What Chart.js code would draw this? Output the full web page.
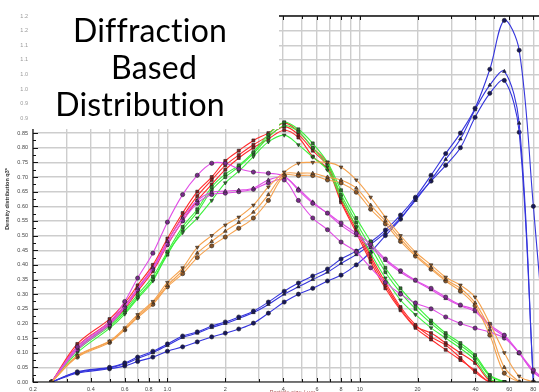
<!DOCTYPE html>
<html><head><meta charset="utf-8">
<script src="https://cdn.jsdelivr.net/npm/chart.js@4/dist/chart.umd.min.js"></script>
<style>
html,body{margin:0;padding:0;background:#fff;overflow:hidden;width:539px;height:392px}
#wrap{position:absolute;left:0;top:0;width:560px;height:400px}
</style></head><body>
<div id="wrap"><canvas id="c" width="560" height="400"></canvas></div>
<script>
// Particle size classes (µm)
const sizes = [0.25, 0.34, 0.5, 0.6, 0.7, 0.84, 1.0, 1.2, 1.43, 1.7, 2.0, 2.35, 2.8, 3.35, 4.05, 4.8, 5.7, 6.8, 8.0, 9.6, 11.4, 13.6, 16.3, 19.5, 23.5, 28, 33.4, 39.8, 47.5, 56.5, 67.5, 80, 95.5];

// Density distribution q3* per sample
const red1 = [0, 0.13, 0.215, 0.27, 0.33, 0.40, 0.49, 0.577, 0.65, 0.70, 0.755, 0.79, 0.825, 0.85, 0.885, 0.855, 0.80, 0.747, 0.63, 0.53, 0.43, 0.34, 0.256, 0.195, 0.154, 0.126, 0.082, 0.034, 0, 0, null, null, null];
const red2 = [0, 0.122, 0.205, 0.26, 0.32, 0.39, 0.48, 0.565, 0.635, 0.69, 0.74, 0.775, 0.81, 0.84, 0.872, 0.845, 0.79, 0.738, 0.62, 0.52, 0.42, 0.33, 0.25, 0.19, 0.167, 0.133, 0.099, 0.065, 0.005, 0, null, null, null];
const red3 = [0, 0.112, 0.198, 0.25, 0.31, 0.378, 0.468, 0.55, 0.62, 0.675, 0.725, 0.765, 0.80, 0.83, 0.86, 0.835, 0.77, 0.728, 0.614, 0.51, 0.41, 0.32, 0.245, 0.185, 0.145, 0.11, 0.075, 0.04, 0, 0, null, null, null];
const green1 = [0, 0.115, 0.195, 0.245, 0.298, 0.36, 0.445, 0.53, 0.59, 0.666, 0.71, 0.74, 0.785, 0.845, 0.887, 0.863, 0.815, 0.75, 0.655, 0.56, 0.48, 0.39, 0.32, 0.263, 0.21, 0.167, 0.133, 0.092, 0.024, 0, null, null, null];
const green2 = [0, 0.108, 0.19, 0.238, 0.29, 0.35, 0.435, 0.52, 0.58, 0.655, 0.70, 0.735, 0.78, 0.835, 0.875, 0.855, 0.80, 0.74, 0.64, 0.545, 0.46, 0.375, 0.305, 0.25, 0.20, 0.16, 0.125, 0.085, 0.02, 0, null, null, null];
const green3 = [0, 0.10, 0.183, 0.232, 0.285, 0.345, 0.44, 0.51, 0.56, 0.62, 0.68, 0.72, 0.77, 0.82, 0.843, 0.81, 0.768, 0.724, 0.628, 0.53, 0.44, 0.355, 0.28, 0.23, 0.185, 0.15, 0.115, 0.075, 0.01, 0, null, null, null];
const magenta1 = [0, 0.12, 0.205, 0.275, 0.355, 0.44, 0.546, 0.64, 0.706, 0.747, 0.747, 0.728, 0.717, 0.713, 0.703, 0.655, 0.61, 0.577, 0.543, 0.508, 0.47, 0.42, 0.38, 0.348, 0.32, 0.29, 0.263, 0.246, 0.195, 0.16, 0.10, 0.041, 0];
const magenta2 = [0, 0.115, 0.2, 0.26, 0.32, 0.39, 0.48, 0.56, 0.62, 0.648, 0.652, 0.655, 0.662, 0.69, 0.70, 0.66, 0.615, 0.575, 0.535, 0.50, 0.46, 0.415, 0.375, 0.345, 0.315, 0.285, 0.26, 0.24, 0.19, 0.155, 0.098, 0.035, 0];
const magenta3 = [0, 0.11, 0.195, 0.255, 0.315, 0.385, 0.47, 0.55, 0.61, 0.64, 0.645, 0.65, 0.658, 0.68, 0.69, 0.62, 0.56, 0.52, 0.478, 0.444, 0.39, 0.34, 0.30, 0.27, 0.25, 0.222, 0.2, 0.184, 0.17, 0.15, 0.099, 0.034, 0];
const orange1 = [0, 0.09, 0.14, 0.185, 0.23, 0.275, 0.34, 0.39, 0.46, 0.50, 0.536, 0.563, 0.604, 0.666, 0.717, 0.747, 0.75, 0.75, 0.734, 0.69, 0.631, 0.563, 0.50, 0.444, 0.40, 0.358, 0.331, 0.29, 0.20, 0.10, 0.02, 0, null];
const orange2 = [0, 0.088, 0.138, 0.18, 0.225, 0.27, 0.33, 0.38, 0.44, 0.48, 0.515, 0.545, 0.58, 0.64, 0.71, 0.713, 0.713, 0.70, 0.69, 0.662, 0.604, 0.55, 0.49, 0.435, 0.39, 0.35, 0.32, 0.27, 0.18, 0.05, 0, null, null];
const orange3 = [0, 0.085, 0.135, 0.178, 0.22, 0.265, 0.325, 0.37, 0.425, 0.465, 0.495, 0.525, 0.56, 0.62, 0.705, 0.705, 0.705, 0.69, 0.68, 0.648, 0.59, 0.54, 0.48, 0.43, 0.385, 0.345, 0.31, 0.26, 0.16, 0.03, 0, null, null];
const blue1 = [0, 0.035, 0.05, 0.065, 0.085, 0.105, 0.13, 0.157, 0.171, 0.191, 0.205, 0.222, 0.242, 0.273, 0.31, 0.338, 0.362, 0.386, 0.42, 0.447, 0.478, 0.519, 0.57, 0.631, 0.706, 0.78, 0.85, 0.935, 1.068, 1.235, 1.133, 0.60, 0];
const blue2 = [0, 0.033, 0.048, 0.062, 0.08, 0.10, 0.125, 0.152, 0.167, 0.186, 0.2, 0.217, 0.237, 0.265, 0.30, 0.325, 0.35, 0.375, 0.405, 0.435, 0.47, 0.51, 0.56, 0.62, 0.69, 0.76, 0.83, 0.93, 1.014, 1.061, 0.884, 0, null];
const blue3 = [0, 0.03, 0.045, 0.055, 0.07, 0.085, 0.105, 0.12, 0.137, 0.154, 0.167, 0.181, 0.201, 0.235, 0.273, 0.30, 0.32, 0.345, 0.365, 0.40, 0.444, 0.50, 0.556, 0.625, 0.686, 0.74, 0.80, 0.904, 0.986, 1.03, 0.853, 0, null];

// Axis ticks / labels
const xGridValues = [0.2,0.3,0.4,0.5,0.6,0.7,0.8,0.9,1,2,3,4,5,6,7,8,9,10,20,30,40,50,60,70,80,90,100];
const xLabels = {0.2:'0.2',0.4:'0.4',0.6:'0.6',0.8:'0.8',1:'1.0',2:'2',4:'4',6:'6',8:'8',10:'10',20:'20',40:'40',60:'60',80:'80'};
const titleLines = ['Diffraction', 'Based', 'Distribution'];

const toPoints = vals => vals.map((v, i) => v === null ? null : {x: sizes[i], y: v}).filter(p => p);

function series(vals, line, mark, style, rot) {
  return {
    data: toPoints(vals), borderColor: line, borderWidth: 1.1,
    backgroundColor: mark, pointBorderColor: '#222', pointBorderWidth: 0.6,
    pointStyle: style, pointRotation: rot || 0, pointRadius: 2.1,
    tension: 0.35, fill: false
  };
}

const RED = '#ff2b2b', GRN = '#3cf03c', MAG = '#e04ee6', ORG = '#f5a24e', BLU = '#3434dc';
const datasets = [
  series(orange1, ORG, '#8a5526', 'triangle', 180),
  series(orange2, ORG, '#8a5526', 'triangle'),
  series(orange3, ORG, '#8a5526', 'circle'),
  series(magenta1, MAG, '#7a2a8c', 'circle'),
  series(magenta2, MAG, '#7a2a8c', 'triangle'),
  series(magenta3, MAG, '#7a2a8c', 'circle'),
  series(green1, GRN, '#2a7a2a', 'rect'),
  series(green2, GRN, '#2a7a2a', 'rect'),
  series(green3, GRN, '#2a7a2a', 'triangle', 180),
  series(red1, RED, '#8c1c1c', 'rect'),
  series(red2, RED, '#8c1c1c', 'rect'),
  series(red3, RED, '#8c1c1c', 'rect'),
  series(blue1, BLU, '#16165e', 'circle'),
  series(blue2, BLU, '#16165e', 'triangle'),
  series(blue3, BLU, '#16165e', 'circle')
];

// Frame, inner ticks and the title panel
const decor = {
  id: 'decor',
  afterDatasetsDraw(chart) {
    const {ctx, chartArea: a, scales: {x, y}} = chart;
    ctx.save();
    ctx.strokeStyle = '#111';
    ctx.lineWidth = 1.2;
    ctx.beginPath();
    ctx.moveTo(a.left, a.top); ctx.lineTo(a.left, a.bottom); ctx.lineTo(a.right, a.bottom);
    ctx.stroke();
    ctx.lineWidth = 1;
    ctx.beginPath();
    xGridValues.forEach(v => {
      const px = Math.round(x.getPixelForValue(v)) + 0.5;
      const len = xLabels[v] ? 4 : 3;
      ctx.moveTo(px, a.bottom); ctx.lineTo(px, a.bottom - len);
      ctx.moveTo(px, a.top); ctx.lineTo(px, a.top + len);
    });
    for (let k = 0; k <= 50; k++) {
      const py = Math.round(y.getPixelForValue(k * 0.025)) + 0.5;
      ctx.moveTo(a.left, py); ctx.lineTo(a.left + (k % 2 ? 3 : 5), py);
    }
    ctx.stroke();
    // title panel
    ctx.fillStyle = '#fff';
    ctx.fillRect(a.left - 2, 0, 279 - a.left + 2, 129);
    ctx.strokeStyle = '#111';
    ctx.lineWidth = 1.4;
    ctx.beginPath();
    ctx.moveTo(279, a.top); ctx.lineTo(a.right, a.top);
    ctx.stroke();
    ctx.fillStyle = '#000';
    ctx.font = '32px Lato';
    ctx.letterSpacing = '0.2px';
    ctx.textAlign = 'center';
    ctx.textBaseline = 'alphabetic';
    const cx = [150, 154, 140];
    const by = [42, 79, 116];
    titleLines.forEach((t, i) => ctx.fillText(t, cx[i], by[i]));
    ctx.restore();
  }
};

new Chart(document.getElementById('c'), {
  type: 'line',
  data: {datasets},
  options: {
    responsive: false, animation: false,
    layout: {padding: {top: 16, right: 8, left: 0, bottom: 0}},
    plugins: {legend: {display: false}, tooltip: {enabled: false}},
    scales: {
      x: {
        type: 'logarithmic', min: 0.2, max: 100, position: 'bottom',
        afterBuildTicks: s => { s.ticks = xGridValues.map(v => ({value: v})); },
        afterFit: s => { s.height = 18; },
        grid: {color: '#cdcdcd', lineWidth: 1.4, drawTicks: false},
        border: {display: false},
        ticks: {autoSkip: false, maxRotation: 0, padding: 4, color: '#444',
          font: {size: 5.5, family: 'Liberation Sans'},
          callback: v => xLabels[v] || ''},
        title: {display: true, text: 'Particle size / µm', color: '#b05a5a',
          font: {size: 6, family: 'Liberation Sans'}, padding: {top: 0, bottom: 4}}
      },
      y: {
        min: 0, max: 1.25,
        afterFit: s => { s.width = 33; },
        grid: {color: '#cdcdcd', lineWidth: 1.4, drawTicks: false},
        border: {display: false},
        ticks: {stepSize: 0.05, autoSkip: false, padding: 5,
          color: c => c.tick.value > 0.86 ? '#9a9a9a' : '#444',
          font: {size: 5.5, family: 'Liberation Sans'},
          callback: v => v > 0.86 ? (Math.floor(v * 10 + 1e-6) / 10).toFixed(1) : v.toFixed(2)},
        title: {display: true, text: 'Density distribution q3*', color: '#333',
          font: {size: 5.5, family: 'Liberation Sans', weight: 'bold'}, padding: {top: 4, bottom: 0}}
      }
    }
  },
  plugins: [decor]
});
</script>
</body></html>
